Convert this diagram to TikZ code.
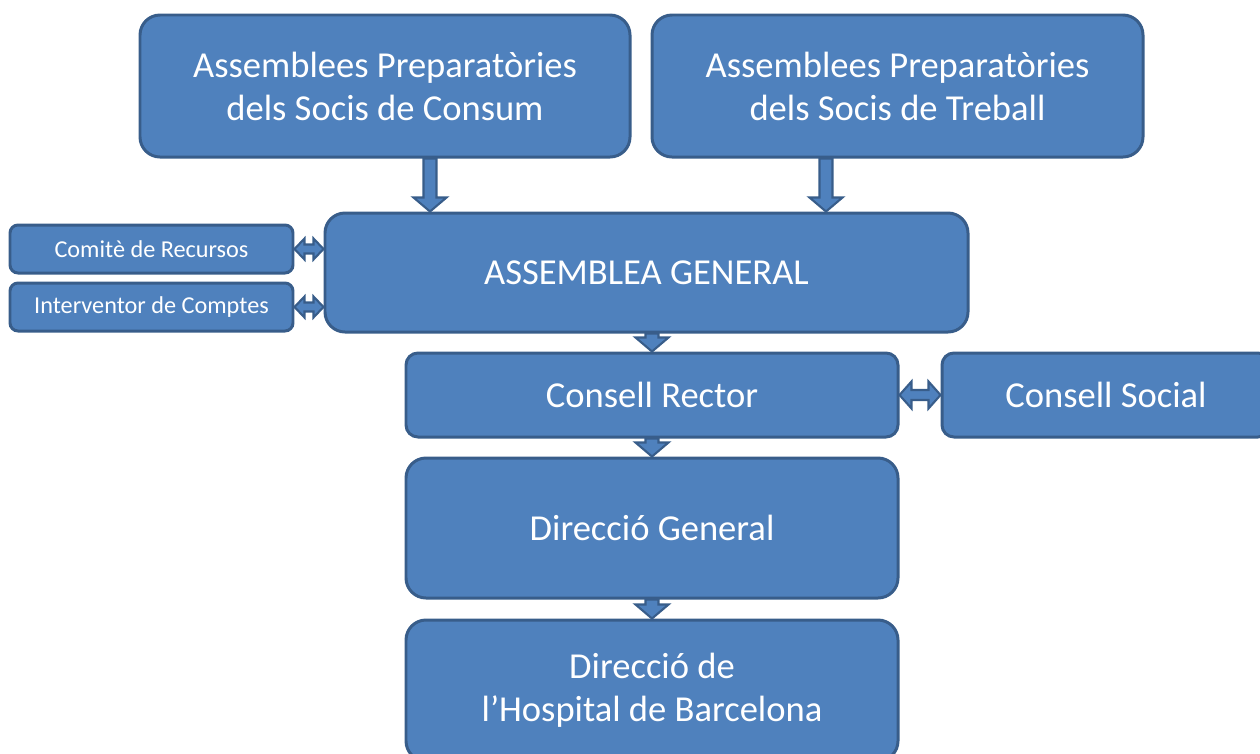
\documentclass[tikz,border=0pt]{standalone}
\usepackage{fontspec}
\setmainfont{Carlito}
\usetikzlibrary{calc}

\definecolor{boxblue}{HTML}{4F81BD}
\definecolor{edgeblue}{HTML}{385D8A}

\tikzset{
  organ/.style={draw=edgeblue, fill=boxblue, line width=1.7pt, rounded corners=0.4cm,
    text=white, align=center, font=\fontsize{20.8}{24.4}\selectfont, inner sep=0pt},
  smallorgan/.style={organ, rounded corners=0.16cm, font=\fontsize{13.8}{16}\selectfont},
  downarr/.style={draw=edgeblue, fill=boxblue, line width=1.2pt, to path={
    let \p1=(\tikztostart), \p2=(\tikztotarget) in
    (\x1-0.13cm,\y1) -- (\x1-0.13cm,\y2+0.28cm) -- (\x1-0.33cm,\y2+0.28cm) -- (\x1,\y2)
    -- (\x1+0.33cm,\y2+0.28cm) -- (\x1+0.13cm,\y2+0.28cm) -- (\x1+0.13cm,\y1) -- cycle}},
  biarr/.style n args={3}{draw=edgeblue, fill=boxblue, line width=1.2pt, to path={
    let \p1=(\tikztostart), \p2=(\tikztotarget) in
    (\x1,\y1) -- (\x1+#3,\y1+#2) -- (\x1+#3,\y1+#1) -- (\x2-#3,\y1+#1) -- (\x2-#3,\y1+#2)
    -- (\x2,\y1) -- (\x2-#3,\y1-#2) -- (\x2-#3,\y1-#1) -- (\x1+#3,\y1-#1)
    -- (\x1+#3,\y1-#2) -- cycle}}
}

\begin{document}
\begin{tikzpicture}
  \clip (0,0) rectangle (25.2,-15.06);

  % assemblees preparatories
  \node[organ, minimum width=9.8cm, minimum height=2.84cm] (consum) at (7.70,-1.72)
    {Assemblees Preparatòries\\dels Socis de Consum};
  \node[organ, minimum width=9.82cm, minimum height=2.84cm] (treball) at (17.95,-1.72)
    {Assemblees Preparatòries\\dels Socis de Treball};

  % assemblea general i organs de control
  \node[organ, minimum width=12.86cm, minimum height=2.38cm] (general) at (12.93,-5.45)
    {ASSEMBLEA GENERAL};
  \node[smallorgan, minimum width=5.66cm, minimum height=0.96cm] (comite) at (3.03,-4.98)
    {Comitè de Recursos};
  \node[smallorgan, minimum width=5.66cm, minimum height=0.96cm] (interventor) at (3.03,-6.14)
    {Interventor de Comptes};

  % consells
  \node[organ, rounded corners=0.24cm, minimum width=9.84cm, minimum height=1.68cm] (rector) at (13.04,-7.90)
    {Consell Rector};
  \node[organ, rounded corners=0.24cm, minimum width=6.56cm, minimum height=1.68cm] (social) at (22.12,-7.90)
    {Consell Social};

  % direccio
  \node[organ, minimum width=9.84cm, minimum height=2.80cm] (dirgen) at (13.04,-10.56)
    {Direcció General};
  \node[organ, minimum width=9.84cm, minimum height=2.82cm] (hospital) at (13.04,-13.81)
    {Direcció de\\l’Hospital de Barcelona};

  % fletxes
  \draw[downarr] ([xshift=0.9cm]consum.south) to ([xshift=0.9cm]consum.south |- general.north);
  \draw[downarr] ([xshift=-1.43cm]treball.south) to ([xshift=-1.43cm]treball.south |- general.north);
  \draw[downarr] (general.south -| rector.north) to (rector.north);
  \draw[downarr] (rector.south) to (dirgen.north);
  \draw[downarr] (dirgen.south) to (hospital.north);

  \draw[biarr={0.09cm}{0.21cm}{0.2cm}] (comite.east) to (comite.east -| general.west);
  \draw[biarr={0.09cm}{0.21cm}{0.2cm}] (interventor.east) to (interventor.east -| general.west);
  \draw[biarr={0.1cm}{0.27cm}{0.24cm}] (rector.east) to (social.west);
\end{tikzpicture}
\end{document}
